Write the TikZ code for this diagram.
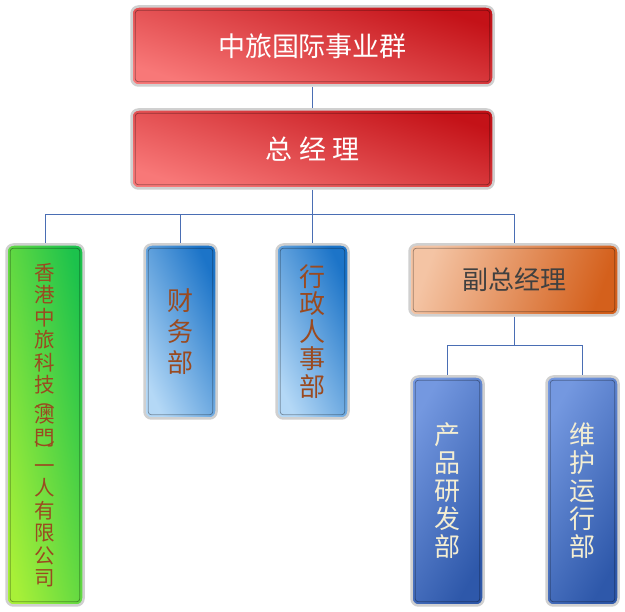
\documentclass[tikz,border=0pt]{standalone}
\usepackage{fontspec}
\newfontfamily\cjk{Noto Sans CJK SC}
\usetikzlibrary{calc}
\definecolor{redD}{HTML}{C41218}
\definecolor{redL}{HTML}{F87878}
\definecolor{grnL}{HTML}{A8F038}
\definecolor{grnD}{HTML}{1CC24C}
\definecolor{lbD}{HTML}{1C74C8}
\definecolor{lbL}{HTML}{B4D8F6}
\definecolor{orL}{HTML}{F4C4A4}
\definecolor{orD}{HTML}{D4601C}
\definecolor{dbL}{HTML}{7498E0}
\definecolor{dbD}{HTML}{2E58AA}
\definecolor{brn}{HTML}{9A4A20}
\definecolor{cream}{HTML}{F4EED2}
\definecolor{lnk}{HTML}{4A6EB4}
\definecolor{frm}{HTML}{D0D0D0}
\tikzset{
  orgbox/.style={rounded corners=7pt, draw=frm, line width=2.5pt, inner sep=0pt, align=center},
  redbox/.style={orgbox, top color=redD, bottom color=redL, shading angle=-18, text=white,
     minimum width=362pt, minimum height=79pt, font=\cjk\fontsize{27}{30}\selectfont},
  grnbox/.style={orgbox, top color=grnD, bottom color=grnL, shading angle=-78, text=brn,
     minimum width=77pt, minimum height=361pt, font=\cjk\fontsize{20.5}{22.5}\selectfont},
  lbbox/.style={orgbox, top color=lbD, bottom color=lbL, shading angle=-65, text=brn,
     minimum width=72pt, minimum height=174pt},
  orbox/.style={orgbox, top color=orL, bottom color=orD, shading angle=70, text=black!75,
     minimum width=209pt, minimum height=71pt, font=\cjk\fontsize{26}{30}\selectfont},
  dbbox/.style={orgbox, top color=dbL, bottom color=dbD, shading angle=60, text=cream,
     minimum width=72pt, minimum height=229pt, font=\cjk\fontsize{26}{28}\selectfont},
  innerline/.style={draw=black, draw opacity=0.35, line width=0.8pt, rounded corners=3pt},
  link/.style={draw=lnk, line width=1pt}
}
\newcommand\inner[1]{\draw[innerline] ($(#1.north west)+(5pt,-5pt)$) rectangle ($(#1.south east)+(-5pt,5pt)$);}
\begin{document}
\begin{tikzpicture}[x=1pt,y=-1pt]
\useasboundingbox (0,0) rectangle (625,612);
\fill[white] (0,0) rectangle (625,612);
\node[redbox] (t) at (312.5,46) {中旅国际事业群};
\node[redbox] (g) at (312.5,149) {总 经 理};
\node[grnbox] (hk) at (45,425) {香\\港\\中\\旅\\科\\技\\[-8pt]︵\\[-7pt]澳\\門\\[-9pt]︶\\[-8pt]一\\人\\有\\限\\公\\司};
\node[lbbox, font=\cjk\fontsize{26}{31}\selectfont] (fin) at (180.5,331.5) {财\\务\\部};
\node[lbbox, font=\cjk\fontsize{26}{27.5}\selectfont] (hr) at (312.5,331.5) {行\\政\\人\\事\\部};
\node[orbox] (vs) at (514,280) {副总经理};
\node[dbbox] (pd) at (447.5,491) {产\\品\\研\\发\\部};
\node[dbbox] (yw) at (582.5,491) {维\\护\\运\\行\\部};
\foreach \n in {t,g,hk,fin,hr,vs,pd,yw} {\inner{\n}}
\coordinate (bus) at (312.5,215);
\coordinate (bus2) at (514,346);
\draw[link] (t.south) -- (g.north);
\draw[link] (g.south) -- (bus);
\draw[link] (bus) -| (hk.north);
\draw[link] (bus) -| (fin.north);
\draw[link] (bus) -- (hr.north);
\draw[link] (bus) -| (vs.north);
\draw[link] (vs.south) -- (bus2);
\draw[link] (bus2) -| (pd.north);
\draw[link] (bus2) -| (yw.north);
\end{tikzpicture}
\end{document}
